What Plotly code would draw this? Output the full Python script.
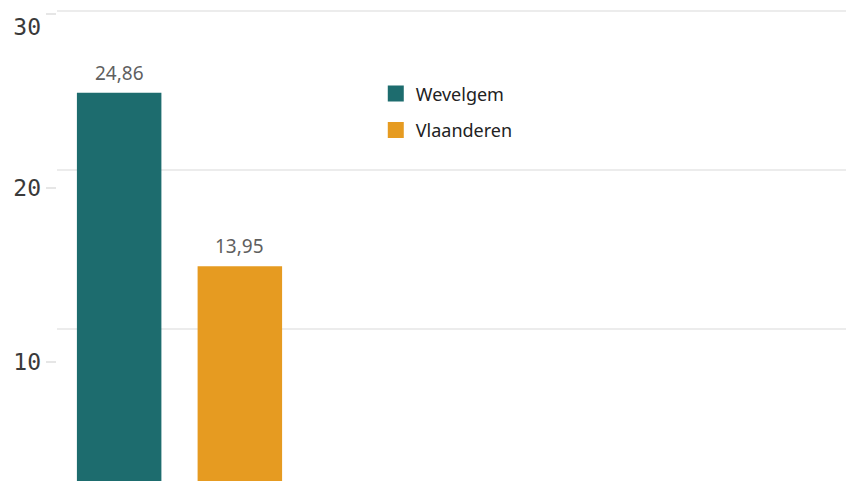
import plotly.graph_objects as go

regions = ["Wevelgem", "Vlaanderen"]
values = [24.86, 13.95]
colors = ["#1d6c6e", "#e69b21"]
grid_vals = [10, 20, 30]
tick_labels = ["10", "20", "30"]

fig = go.Figure()
for name, val, col in zip(regions, values, colors):
    fig.add_trace(go.Bar(
        x=[name], y=[val], name=name,
        marker=dict(color=col, line=dict(width=0)),
        width=0.7,
        showlegend=False,
        hoverinfo="skip",
    ))
    fig.add_annotation(
        x=name, y=val, text=f"{val:.2f}".replace(".", ","),
        showarrow=False, yanchor="bottom", yshift=5,
        font=dict(family="Noto Sans", size=19, color="#5f5f5f"),
    )
    # legend entry with a larger square swatch
    fig.add_trace(go.Scatter(
        x=[None], y=[None], mode="markers", name=name,
        marker=dict(symbol="square", size=18, color=col),
        legendgroup=name, showlegend=True,
    ))

# invisible trace that carries the label axis
fig.add_trace(go.Scatter(x=[None], y=[None], yaxis="y2", showlegend=False))

fig.update_layout(
    width=854, height=481,
    margin=dict(l=49, r=0, t=0, b=0, autoexpand=False),
    paper_bgcolor="white", plot_bgcolor="white",
    separators=",.",
    barmode="overlay",
    xaxis=dict(visible=False, type="category", automargin=False,
               categoryorder="array", categoryarray=regions,
               range=[-0.515, 6.155]),
    yaxis=dict(range=[-0.06, 30.19], tickvals=grid_vals, showticklabels=False,
               showgrid=True, gridcolor="#ececec", gridwidth=1.5,
               zeroline=False, showline=False, ticks="", automargin=False),
    yaxis2=dict(overlaying="y", side="left", range=[2.70, 30.34],
                tickvals=[10, 20, 29.25], ticktext=tick_labels,
                ticks="", showgrid=False, zeroline=False, showline=False,
                automargin=False,
                tickfont=dict(family="DejaVu Sans Mono", size=23, color="#3a3a3a"),
                ticklabelstandoff=15,
                minor=dict(tickvals=grid_vals, ticks="outside", ticklen=10,
                           tickcolor="#e6e6e6", tickwidth=2, showgrid=False)),
    legend=dict(x=0.396, y=0.86, xanchor="left", yanchor="top",
                font=dict(family="Noto Sans", size=18, color="#222222"),
                tracegroupgap=10, bgcolor="rgba(0,0,0,0)"),
    showlegend=True,
)

fig.write_html("out.html")
